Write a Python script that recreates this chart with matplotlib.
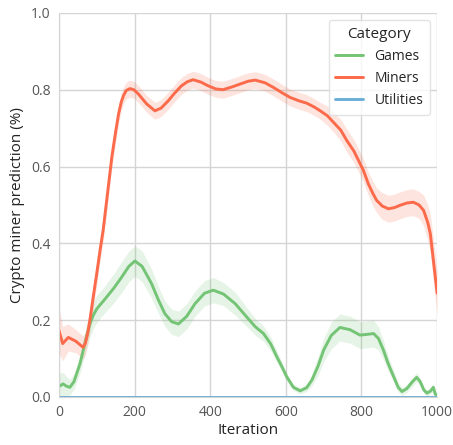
import numpy as np
import matplotlib.pyplot as plt
import seaborn as sns

# Values
miners_x = [0, 10, 25, 45, 64, 70, 76, 82, 90, 100, 110, 117, 130, 140, 150, 158,
            165, 171, 178, 188, 198, 210, 232, 254, 270, 289, 305, 324, 340, 355,
            375, 395, 415, 434, 460, 480, 500, 519, 545, 567, 590, 611, 635, 655,
            675, 691, 710, 726, 745, 761, 780, 792, 805, 818, 830, 840, 855, 871,
            887, 902, 920, 937, 952, 964, 975, 982, 990, 1000]
miners_y = [0.174, 0.139, 0.155, 0.145, 0.129, 0.140, 0.165, 0.200, 0.255, 0.321,
            0.390, 0.434, 0.542, 0.625, 0.690, 0.738, 0.768, 0.785, 0.798, 0.803,
            0.800, 0.789, 0.763, 0.745, 0.752, 0.771, 0.790, 0.810, 0.821, 0.826,
            0.820, 0.810, 0.802, 0.800, 0.808, 0.815, 0.822, 0.825, 0.818, 0.806,
            0.792, 0.780, 0.771, 0.765, 0.755, 0.745, 0.732, 0.715, 0.695, 0.668,
            0.640, 0.616, 0.590, 0.555, 0.530, 0.512, 0.497, 0.490, 0.493, 0.499,
            0.505, 0.507, 0.500, 0.486, 0.455, 0.425, 0.356, 0.270]
miners_ci = [0.060, 0.045, 0.035, 0.030, 0.030, 0.030, 0.030, 0.030, 0.030, 0.030,
             0.030, 0.030, 0.030, 0.030, 0.028, 0.025, 0.023, 0.022, 0.022, 0.022,
             0.022, 0.022, 0.022, 0.022, 0.022, 0.022, 0.022, 0.022, 0.022, 0.022,
             0.022, 0.022, 0.022, 0.022, 0.022, 0.022, 0.022, 0.022, 0.022, 0.022,
             0.022, 0.022, 0.022, 0.022, 0.022, 0.022, 0.025, 0.025, 0.028, 0.030,
             0.030, 0.030, 0.030, 0.030, 0.032, 0.032, 0.035, 0.035, 0.035, 0.035,
             0.035, 0.035, 0.035, 0.040, 0.045, 0.050, 0.055, 0.060]

games_x = [0, 11, 20, 29, 40, 56, 70, 82, 91, 100, 110, 122, 145, 166, 185, 201,
           220, 245, 262, 280, 298, 316, 338, 360, 385, 408, 435, 466, 495, 519,
           541, 560, 576, 590, 602, 620, 638, 655, 669, 685, 700, 720, 743, 770,
           796, 815, 832, 845, 858, 870, 885, 897, 907, 920, 935, 946, 955, 965,
           973, 982, 990, 995, 1000]
games_y = [0.027, 0.034, 0.028, 0.025, 0.040, 0.087, 0.145, 0.190, 0.213, 0.229,
           0.241, 0.255, 0.283, 0.312, 0.340, 0.354, 0.340, 0.295, 0.255, 0.217,
           0.196, 0.190, 0.210, 0.243, 0.270, 0.278, 0.268, 0.243, 0.210, 0.183,
           0.165, 0.138, 0.105, 0.078, 0.053, 0.025, 0.016, 0.024, 0.044, 0.080,
           0.122, 0.160, 0.181, 0.175, 0.161, 0.163, 0.165, 0.152, 0.122, 0.088,
           0.053, 0.025, 0.014, 0.022, 0.040, 0.051, 0.040, 0.018, 0.010, 0.015,
           0.025, 0.007, 0.005]
games_ci = [0.035, 0.030, 0.025, 0.020, 0.020, 0.025, 0.030, 0.035, 0.035, 0.035,
            0.035, 0.035, 0.038, 0.040, 0.040, 0.040, 0.040, 0.038, 0.035, 0.033,
            0.033, 0.033, 0.033, 0.033, 0.033, 0.033, 0.030, 0.030, 0.025, 0.022,
            0.020, 0.018, 0.015, 0.012, 0.010, 0.008, 0.008, 0.010, 0.015, 0.025,
            0.030, 0.035, 0.035, 0.035, 0.035, 0.035, 0.035, 0.030, 0.025, 0.020,
            0.015, 0.012, 0.010, 0.010, 0.012, 0.012, 0.010, 0.008, 0.008, 0.008,
            0.010, 0.008, 0.008]

utilities_x = [0, 250, 500, 750, 1000]
utilities_y = [0.0, 0.0, 0.0, 0.0, 0.0]

categories = ["Games", "Miners", "Utilities"]
colors = ["#74c476", "#fb6a4a", "#6baed6"]

sns.set_style("whitegrid")
plt.rcParams["font.family"] = ["Open Sans", "DejaVu Sans"]

fig = plt.figure(figsize=(4.53, 4.45), dpi=100)
ax = fig.add_axes([0.130, 0.108, 0.835, 0.863])

series = [
    (games_x, games_y, games_ci),
    (miners_x, miners_y, miners_ci),
    (utilities_x, utilities_y, None),
]
for name, color, (x, y, ci) in zip(categories, colors, series):
    x = np.array(x)
    y = np.array(y)
    if ci is not None:
        ci = np.array(ci)
        ax.fill_between(x, y - ci, y + ci, color=color, alpha=0.18, lw=0)
    ax.plot(x, y, color=color, lw=2.1, label=name, solid_joinstyle="round")

ax.set_xlim(0, 1000)
ax.set_ylim(0, 1.0)
ax.set_xticks([0, 200, 400, 600, 800, 1000])
ax.set_yticks([0.0, 0.2, 0.4, 0.6, 0.8, 1.0])
ax.tick_params(labelsize=10, labelcolor="#555555", length=0, pad=6)
ax.set_xlabel("Iteration", fontsize=11, color="#222222", labelpad=2)
ax.set_ylabel("Crypto miner prediction (%)", fontsize=11, color="#222222")
ax.grid(color="#d5d5d5", lw=1)
for s in ["top", "right"]:
    ax.spines[s].set_visible(False)
for s in ["left", "bottom"]:
    ax.spines[s].set_color("#d5d5d5")

leg = ax.legend(title="Category", loc="upper right", fontsize=10,
                title_fontsize=11, frameon=True, borderpad=0.5)
leg.get_frame().set_edgecolor("#dddddd")

plt.savefig("out.png", dpi=100)
